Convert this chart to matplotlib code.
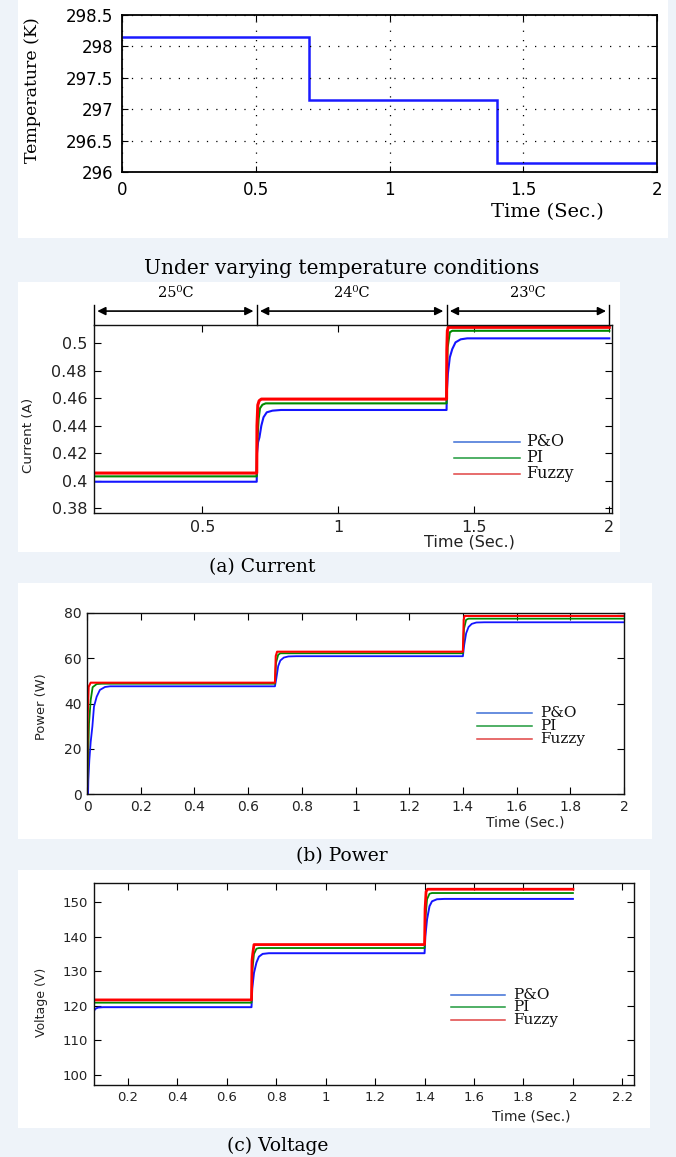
import matplotlib.pyplot as plt
from matplotlib.patches import Rectangle

# ---- data ----
# temperature profile (K)
temp_edges = [0, 0.7, 1.4, 2.0]
temp_k = [298.15, 297.15, 296.15]
temp_xticks = [0, 0.5, 1, 1.5, 2]
temp_xlabels = ['0', '0.5', '1', '1.5', '2']
temp_yticks = [296, 296.5, 297, 297.5, 298, 298.5]
temp_ylabels = ['296', '296.5', '297', '297.5', '298', '298.5']

# current (A)
cur_t_po = [0.1, 0.7, 0.701, 0.705, 0.71, 0.717, 0.725, 0.737, 0.758, 0.789,
            1.4, 1.401, 1.405, 1.412, 1.421, 1.433, 1.452, 1.476, 2.0]
cur_po = [0.3993, 0.3993, 0.420, 0.428, 0.4315, 0.440, 0.4461, 0.4497, 0.4509, 0.4514,
          0.4514, 0.465, 0.478, 0.4896, 0.4956, 0.5005, 0.5027, 0.5034, 0.5034]
cur_t_pi = [0.1, 0.7, 0.701, 0.707, 0.712, 0.721, 0.733, 1.4, 1.401, 1.404, 1.412, 1.421, 2.0]
cur_pi = [0.4032, 0.4032, 0.425, 0.4448, 0.4526, 0.4552, 0.4562, 0.4562, 0.480, 0.4969, 0.5078, 0.5089, 0.5089]
cur_t_fz = [0.1, 0.7, 0.701, 0.704, 0.709, 0.717, 1.4, 1.401, 1.403, 1.406, 2.0]
cur_fz = [0.4056, 0.4056, 0.440, 0.455, 0.4581, 0.4593, 0.4593, 0.495, 0.509, 0.5114, 0.5114]
cur_xticks = [0.5, 1, 1.5, 2]
cur_xlabels = ['0.5', '1', '1.5', '2']
cur_yticks = [0.38, 0.40, 0.42, 0.44, 0.46, 0.48, 0.50]
cur_ylabels = ['0.38', '0.4', '0.42', '0.44', '0.46', '0.48', '0.5']
zone_edges = [0.1, 0.7, 1.4, 2.0]
zone_labels = ['25\u2070C', '24\u2070C', '23\u2070C']

# power (W)
pow_t_po = [0, 0.004, 0.005, 0.0087, 0.0137, 0.02, 0.026, 0.036, 0.048, 0.067, 0.086,
            0.7, 0.705, 0.712, 0.72, 0.733, 0.75, 0.78,
            1.4, 1.405, 1.412, 1.421, 1.433, 1.45, 1.48, 2.0]
pow_po = [0, 0, 6.2, 15, 23, 29.8, 38.6, 43, 46, 47.3, 47.6,
          47.6, 51, 56.5, 59, 60.3, 60.8, 60.9,
          60.9, 66, 71, 73.8, 75.2, 75.8, 75.9, 75.9]
pow_t_pi = [0, 0.004, 0.0075, 0.0137, 0.021, 0.036, 0.055, 0.7, 0.704, 0.712, 0.72,
            1.4, 1.404, 1.412, 1.421, 2.0]
pow_pi = [0, 15, 31.2, 41.5, 47.2, 48.6, 48.75, 48.75, 58, 61.5, 62.2,
          62.2, 73, 77, 77.5, 77.5]
pow_t_fz = [0, 0.0025, 0.0062, 0.0137, 0.7, 0.703, 0.708, 1.4, 1.403, 1.406, 2.0]
pow_fz = [0, 34.2, 47.4, 49.2, 49.2, 61, 62.9, 62.9, 77, 78.7, 78.7]
pow_xticks = [0, 0.2, 0.4, 0.6, 0.8, 1, 1.2, 1.4, 1.6, 1.8, 2]
pow_xlabels = ['0', '0.2', '0.4', '0.6', '0.8', '1', '1.2', '1.4', '1.6', '1.8', '2']
pow_yticks = [0, 20, 40, 60, 80]

# voltage (V)
vol_t_po = [0.063, 0.07, 0.08, 0.1, 0.7, 0.703, 0.71, 0.72, 0.73, 0.745, 0.77,
            1.4, 1.403, 1.41, 1.42, 1.43, 1.45, 1.48, 2.0]
vol_po = [118.6, 119.2, 119.5, 119.6, 119.6, 125, 129.5, 132.5, 134.2, 135, 135.2,
          135.2, 140, 145, 148.8, 150.2, 150.8, 150.9, 150.9]
vol_t_pi = [0.063, 0.7, 0.703, 0.71, 0.72, 0.73, 1.4, 1.403, 1.41, 1.42, 1.43, 2.0]
vol_pi = [120.9, 120.9, 130, 135, 136.5, 136.7, 136.7, 145, 150.8, 152.4, 152.6, 152.6]
vol_t_fz = [0.063, 0.7, 0.702, 0.705, 0.71, 1.4, 1.402, 1.406, 1.412, 2.0]
vol_fz = [121.7, 121.7, 133, 135, 137.7, 137.7, 148, 153, 153.7, 153.7]
vol_xticks = [0.2, 0.4, 0.6, 0.8, 1, 1.2, 1.4, 1.6, 1.8, 2, 2.2]
vol_xlabels = ['0.2', '0.4', '0.6', '0.8', '1', '1.2', '1.4', '1.6', '1.8', '2', '2.2']
vol_yticks = [100, 110, 120, 130, 140, 150]

methods = ['P&O', 'PI', 'Fuzzy']
line_colors = ['#1414ff', '#008a00', '#ff0000']
legend_colors = ['#3d6fd6', '#1f9a3c', '#e04444']

# ---- layout helpers (pixel positions of the reference) ----
W, H = 676, 1157
SERIF = 'DejaVu Serif'
SANS = 'DejaVu Sans'


def rect(left, top, right, bottom):
    return [left / W, 1 - bottom / H, (right - left) / W, (bottom - top) / H]


def ftext(x, y, s, **kw):
    fig.text(x / W, 1 - y / H, s, ha='center', va='center', **kw)


def matlab_axes(ax, tick_len, size, pad, color='#222222'):
    ax.tick_params(direction='in', top=True, right=True, length=tick_len, width=0.8,
                   labelsize=size, pad=pad, labelcolor=color)
    for sp in ax.spines.values():
        sp.set_linewidth(1.0)
        sp.set_color('#111111')


def manual_legend(ax, x0, x1, xt, ys, size):
    for lab, col, y in zip(methods, legend_colors, ys):
        ax.plot([x0, x1], [y, y], transform=ax.transAxes, color=col, lw=1.1, clip_on=False)
        ax.text(xt, y, lab, transform=ax.transAxes, va='center', ha='left',
                fontsize=size, family=SERIF, color='#111111')


fig = plt.figure(figsize=(W / 100, H / 100), dpi=100, facecolor='#eef3f9')

# white panels behind each plot
for l, t, r, b in [(18, 0, 668, 238), (18, 282, 620, 552), (18, 583, 652, 839), (18, 870, 650, 1128)]:
    fig.add_artist(Rectangle((l / W, 1 - b / H), (r - l) / W, (b - t) / H,
                             transform=fig.transFigure, facecolor='white',
                             edgecolor='none', zorder=-5))

# ---- temperature ----
ax1 = fig.add_axes(rect(122, 15, 657, 172))
ax1.stairs(temp_k, temp_edges, baseline=None, color='#1a1aff', lw=1.8)
ax1.set_xlim(0, 2)
ax1.set_ylim(296, 298.5)
ax1.set_xticks(temp_xticks, temp_xlabels)
ax1.set_yticks(temp_yticks, temp_ylabels)
matlab_axes(ax1, 4, 12, 6.5, color='black')
ax1.grid(True, color='black', lw=0.9, linestyle=(0, (1, 6.5)))
for sp in ax1.spines.values():
    sp.set_linewidth(1.3)
    sp.set_color('black')
ftext(33, 90, 'Temperature (K)', rotation=90, fontsize=12.5, family=SERIF)
ftext(547, 212, 'Time (Sec.)', fontsize=14, family=SERIF)

ftext(342, 269, 'Under varying temperature conditions', fontsize=14.5, family=SERIF)

# ---- current ----
ax2 = fig.add_axes(rect(94, 325, 612, 513))
for t, v, c, w in [(cur_t_po, cur_po, line_colors[0], 1.5), (cur_t_pi, cur_pi, line_colors[1], 1.5),
                   (cur_t_fz, cur_fz, line_colors[2], 2.2)]:
    ax2.plot(t, v, color=c, lw=w)
ax2.set_xlim(0.1, 2.01)
ax2.set_ylim(0.3766, 0.5131)
ax2.set_xticks(cur_xticks, cur_xlabels)
ax2.set_yticks(cur_yticks, cur_ylabels)
matlab_axes(ax2, 5, 11.5, 5)
manual_legend(ax2, 0.695, 0.822, 0.834, [0.378, 0.295, 0.21], 11.5)
trans = ax2.get_xaxis_transform()
for x in zone_edges:
    ax2.plot([x, x], [1.0, 1.106], transform=trans, color='black', lw=1.0, clip_on=False)
for a, b, lab in zip(zone_edges[:-1], zone_edges[1:], zone_labels):
    ax2.annotate('', xy=(b - 0.012, 1.074), xytext=(a + 0.012, 1.074), xycoords=trans,
                 textcoords=trans, annotation_clip=False,
                 arrowprops=dict(arrowstyle='<|-|>', color='black', lw=1.2,
                                 mutation_scale=12, shrinkA=0, shrinkB=0))
    ax2.text((a + b) / 2, 1.17, lab, transform=trans, ha='center', va='center',
             fontsize=10.5, family=SERIF)
ftext(29, 435, 'Current (A)', rotation=90, fontsize=9.7, family=SANS, color='#222222')
ftext(469, 542, 'Time (Sec.)', fontsize=11.5, family=SANS, color='#222222')
ftext(262, 567, '(a) Current', fontsize=13.5, family=SERIF)

# ---- power ----
ax3 = fig.add_axes(rect(87, 613, 624, 794))
for t, v, c, w in [(pow_t_po, pow_po, line_colors[0], 1.3), (pow_t_pi, pow_pi, line_colors[1], 1.3),
                   (pow_t_fz, pow_fz, line_colors[2], 1.5)]:
    ax3.plot(t, v, color=c, lw=w)
ax3.set_xlim(0, 2)
ax3.set_ylim(0, 80)
ax3.set_xticks(pow_xticks, pow_xlabels)
ax3.set_yticks(pow_yticks)
matlab_axes(ax3, 5, 10, 4)
manual_legend(ax3, 0.726, 0.829, 0.844, [0.4475, 0.3757, 0.304], 11)
ftext(42, 707, 'Power (W)', rotation=90, fontsize=9.4, family=SANS, color='#222222')
ftext(525, 823, 'Time (Sec.)', fontsize=10, family=SANS, color='#222222')
ftext(342, 856, '(b) Power', fontsize=13.5, family=SERIF)

# ---- voltage ----
ax4 = fig.add_axes(rect(94, 883, 634, 1085))
for t, v, c, w in [(vol_t_po, vol_po, line_colors[0], 1.4), (vol_t_pi, vol_pi, line_colors[1], 1.3),
                   (vol_t_fz, vol_fz, line_colors[2], 2.0)]:
    ax4.plot(t, v, color=c, lw=w)
ax4.set_xlim(0.063, 2.247)
ax4.set_ylim(97.1, 155.5)
ax4.set_xticks(vol_xticks, vol_xlabels)
ax4.set_yticks(vol_yticks)
matlab_axes(ax4, 5, 9.5, 4.5)
manual_legend(ax4, 0.661, 0.761, 0.776, [0.4455, 0.386, 0.322], 11)
ftext(41, 1002, 'Voltage (V)', rotation=90, fontsize=9, family=SANS, color='#222222')
ftext(531, 1116, 'Time (Sec.)', fontsize=10, family=SANS, color='#222222')
ftext(278, 1146, '(c) Voltage', fontsize=13.5, family=SERIF)

fig.savefig('out.png', dpi=100, facecolor=fig.get_facecolor())
